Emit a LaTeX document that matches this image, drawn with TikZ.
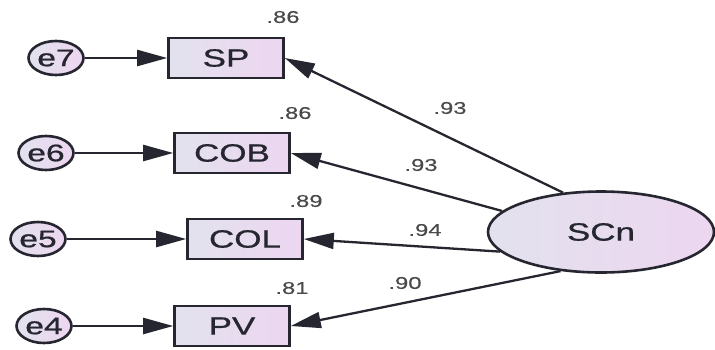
\documentclass[tikz,border=0pt]{standalone}
\usepackage{fontspec}
\newfontfamily\labfont[FakeStretch=1.4,FakeBold=0.8]{Liberation Sans}
\newfontfamily\numfont[FakeStretch=1.4,FakeBold=0.3]{Liberation Sans}
\usetikzlibrary{arrows.meta,shapes.geometric}
\definecolor{fillL}{HTML}{E2E2EE}
\definecolor{fillR}{HTML}{EDD6F0}
\definecolor{numgray}{HTML}{4A4A4A}
\definecolor{inkc}{HTML}{262630}
\begin{document}
\begin{tikzpicture}[x=1pt,y=-1pt,
  obs/.style={draw=inkc, line width=2.6pt, left color=fillL, right color=fillR,
    minimum width=115pt, minimum height=40pt, inner sep=0pt,
    font=\labfont\fontsize{25}{25}\selectfont, text=inkc},
  err/.style={ellipse, draw=inkc, line width=2.6pt, left color=fillL, right color=fillR,
    minimum width=55pt, minimum height=34pt, inner sep=0pt,
    font=\labfont\fontsize{24}{24}\selectfont, text=inkc},
  lat/.style={ellipse, draw=inkc, line width=2.6pt, left color=fillL, right color=fillR,
    minimum width=226pt, minimum height=81pt, inner sep=0pt,
    font=\labfont\fontsize{25}{25}\selectfont, text=inkc},
  num/.style={font=\numfont\fontsize{17}{17}\selectfont, text=numgray, inner sep=0pt},
  pth/.style={draw=inkc, line width=2.3pt, -{Triangle[length=30pt,width=16pt]}}
]
\useasboundingbox[fill=white] (0,0) rectangle (715,349);

\node[obs] (SP)  at (226,58)  {SP};
\node[obs] (COB) at (232,153) {COB};
\node[obs] (COL) at (245,239) {COL};
\node[obs] (PV)  at (232,326) {PV};

\node[err] (e7) at (56,58)  {e7};
\node[err] (e6) at (46,153) {e6};
\node[err] (e5) at (38,239) {e5};
\node[err] (e4) at (44,326) {e4};

\node[lat] (SCn) at (601,232) {SCn};

\draw[pth] (e7) -- (SP);
\draw[pth] (e6) -- (COB);
\draw[pth] (e5) -- (COL);
\draw[pth] (e4) -- (PV);

\draw[pth] (SCn.134) -- (SP.east);
\draw[pth] (SCn.168) -- (COB.east);
\draw[pth] (SCn.191) -- (COL.east);
\draw[pth] (SCn.224) -- (PV.east);

\node[num] (r7) at (283,17)  {.86};
\node[num] (r6) at (295,113) {.86};
\node[num] (r5) at (306,201) {.89};
\node[num] (r4) at (292,288) {.81};
\node[num] (w7) at (450,108) {.93};
\node[num] (w6) at (421,165) {.93};
\node[num] (w5) at (425,230) {.94};
\node[num] (w4) at (405,283) {.90};
\end{tikzpicture}
\end{document}
